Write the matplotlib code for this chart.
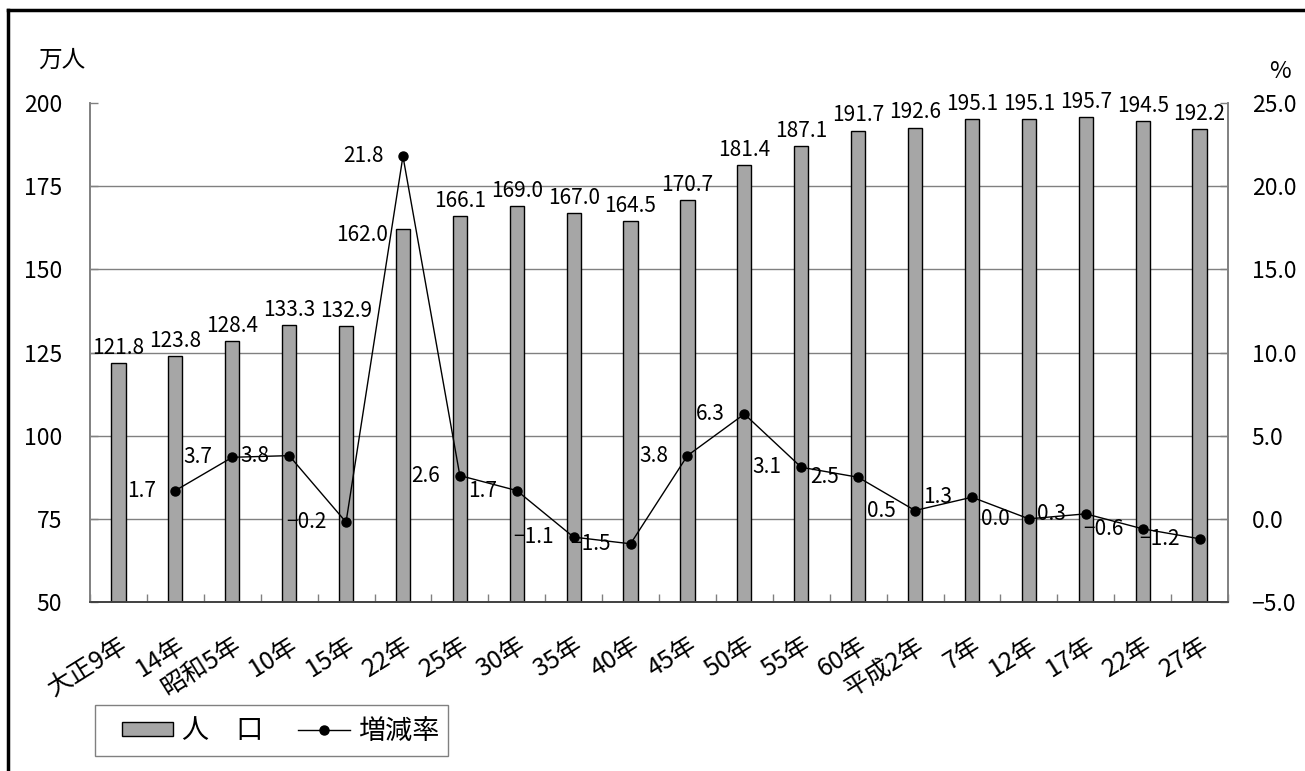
import numpy as np
import matplotlib
matplotlib.use('Agg')
import matplotlib.pyplot as plt
from matplotlib.patches import Patch, Rectangle
from matplotlib.lines import Line2D

plt.rcParams['font.family'] = ['Noto Sans CJK JP', 'DejaVu Sans']

# data
years = ['大正9年', '14年', '昭和5年', '10年', '15年', '22年', '25年', '30年',
         '35年', '40年', '45年', '50年', '55年', '60年', '平成2年', '7年',
         '12年', '17年', '22年', '27年']
population = [121.8, 123.8, 128.4, 133.3, 132.9, 162.0, 166.1, 169.0, 167.0, 164.5,
              170.7, 181.4, 187.1, 191.7, 192.6, 195.1, 195.1, 195.7, 194.5, 192.2]
rate = [np.nan, 1.7, 3.7, 3.8, -0.2, 21.8, 2.6, 1.7, -1.1, -1.5,
        3.8, 6.3, 3.1, 2.5, 0.5, 1.3, 0.0, 0.3, -0.6, -1.2]

W, H = 1305, 771
fig = plt.figure(figsize=(W / 100, H / 100), dpi=100)
ax = fig.add_axes([90 / W, 1 - 602 / H, (1228 - 90) / W, (602 - 103) / H])
ax2 = ax.twinx()

x = np.arange(len(years))
bar_color = '#a6a6a6'
grid_color = '#808080'
lab_fs = 15

ax.bar(x, np.array(population) - 50, bottom=50, width=0.25,
       color=bar_color, edgecolor='black', linewidth=1.0, zorder=2)
for xi, v in zip(x, population):
    if xi == 5:
        # this label sits to the left of the bar, clear of the line
        ax.annotate(f'{v:.1f}', (xi, v), xytext=(-11, -4), textcoords='offset points',
                    ha='right', va='center', fontsize=lab_fs)
    else:
        ax.annotate(f'{v:.1f}', (xi, v), xytext=(0, 3), textcoords='offset points',
                    ha='center', va='bottom', fontsize=lab_fs)

ax.set_xlim(-0.5, len(years) - 0.5)
ax.set_ylim(50, 200)
ax.set_yticks(np.arange(50, 201, 25))
for yv in np.arange(75, 176, 25):
    ax.axhline(yv, color=grid_color, linewidth=1.0, zorder=1)

ax.set_xticks(x)
ax.set_xticklabels(years, rotation=32, ha='right', va='top',
                   rotation_mode='anchor', fontsize=18)
ax.set_xticks(np.arange(-0.5, len(years)), minor=True)
ax.tick_params(axis='x', which='major', length=0, pad=22)
ax.tick_params(axis='x', which='minor', direction='in', length=6,
               color=grid_color, width=1)
ax.tick_params(axis='y', direction='in', length=6, color=grid_color,
               width=1, labelsize=16.5, pad=20)

ax2.plot(x, rate, color='black', linewidth=1.0, marker='o', markersize=6.5,
         zorder=3)
for xi, v in zip(x, rate):
    if np.isnan(v):
        continue
    s = f'{v:.1f}'.replace('-', '−')
    ax2.annotate(s, (xi, v), xytext=(-14, 0), textcoords='offset points',
                 ha='right', va='center', fontsize=lab_fs)
ax2.set_ylim(-5, 25)
ax2.set_yticks(np.arange(-5, 26, 5))
ax2.set_yticklabels([f'{t:.1f}'.replace('-', '−') for t in np.arange(-5, 26, 5)])
ax2.tick_params(axis='y', direction='in', length=6, color=grid_color,
                width=1, labelsize=16.5, pad=17)

for a in (ax, ax2):
    a.spines['top'].set_visible(False)
    a.spines['left'].set_color(grid_color)
    a.spines['right'].set_color(grid_color)
    a.spines['bottom'].set_color('#404040')
    for sp in a.spines.values():
        sp.set_linewidth(1.2)

fig.text(38 / W, 1 - 60 / H, '万人', fontsize=17, va='center', ha='left')
fig.text(1291 / W, 1 - 72 / H, '%', fontsize=17, va='center', ha='right')

handles = [Patch(facecolor=bar_color, edgecolor='black', linewidth=1.0),
           Line2D([], [], color='black', linewidth=1.0, marker='o', markersize=6.5)]
fig.legend(handles, ['人　口', '増減率'], ncol=2, loc='center left',
           bbox_to_anchor=(122 / W, 1 - 731 / H), fontsize=19.5,
           frameon=False, handlelength=1.9, handleheight=0.45,
           handletextpad=0.3, columnspacing=1.3, borderpad=0, borderaxespad=0)
fig.add_artist(Rectangle((95 / W, 1 - 756 / H), (448 - 95) / W, 51 / H,
                         transform=fig.transFigure, fill=False,
                         edgecolor=grid_color, linewidth=1.0))

# outer frame
fig.add_artist(Line2D([8 / W, 1], [1 - 10 / H, 1 - 10 / H], color='black',
                      linewidth=2.5, transform=fig.transFigure))
fig.add_artist(Line2D([8 / W, 8 / W], [0, 1 - 10 / H], color='black',
                      linewidth=2.5, transform=fig.transFigure))

fig.savefig('out.png', dpi=100)
